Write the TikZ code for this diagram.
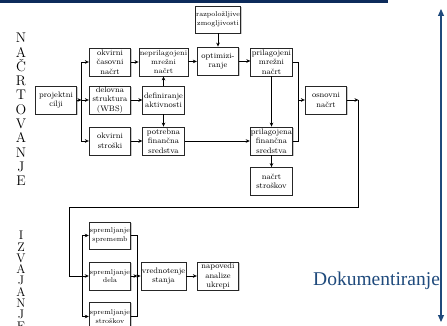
\documentclass[tikz,border=0pt]{standalone}
\usepackage{fontspec}
\newfontfamily\docfont{Liberation Serif}
\usetikzlibrary{arrows.meta,shadows}
\definecolor{barblue}{HTML}{0D2B5B}
\definecolor{docblue}{HTML}{1F4A7C}
\begin{document}
\begin{tikzpicture}[x=1pt,y=-1pt,
  box/.style={draw=black!85,line width=0.8pt,fill=white,align=center,
    minimum width=41.5pt,minimum height=28pt,inner sep=0.8pt,
    font=\footnotesize,
    drop shadow={shadow xshift=0.9pt,shadow yshift=-0.9pt,opacity=0.35,fill=black!60}},
  smallbox/.style={box,font=\fontsize{7}{8.6}\selectfont},
  arr/.style={-{Stealth[length=4pt,width=3.6pt]},line width=0.75pt},
  lin/.style={line width=0.75pt},
  phase/.style={align=center,inner sep=0pt,anchor=north}]
\useasboundingbox (0,0) rectangle (447,326);
\clip (0,0) rectangle (447,326);

% title bar
\fill[barblue] (0,0) rectangle (388,3);

% phase labels
\node[phase,font=\fontsize{14}{14.3}\selectfont] (plan) at (21,33)
  {N\\A\\Č\\R\\T\\O\\V\\A\\N\\J\\E};
\node[phase,font=\fontsize{12.5}{11.3}\selectfont] (exec) at (21,231)
  {I\\Z\\V\\A\\J\\A\\N\\J\\E};

% planning boxes
\node[box] (cilji) at (56,100) {projektni\\cilji};
\node[box] (casovni) at (110,62) {okvirni\\časovni\\načrt};
\node[box,font=\fontsize{7.4}{9.3}\selectfont] (neprilag) at (163.5,62) {neprilagojeni\\mrežni\\načrt};
\node[smallbox,minimum height=27pt] (razpol) at (218,19.5) {razpoložljive\\zmogljivosti};
\node[box] (optim) at (218,61) {optimizi-\\ranje};
\node[box] (prilagM) at (271.5,62) {prilagojeni\\mrežni\\načrt};
\node[box] (wbs) at (110,100) {delovna\\struktura\\(WBS)};
\node[box] (defin) at (163.5,100) {definiranje\\aktivnosti};
\node[box] (osnovni) at (326,100) {osnovni\\načrt};
\node[box] (okvStr) at (110,141) {okvirni\\stroški};
\node[box] (potrebna) at (163.5,141) {potrebna\\finančna\\sredstva};
\node[box] (prilagF) at (271.5,141) {prilagojena\\finančna\\sredstva};
\node[box] (nacrtStr) at (271.5,181.5) {načrt\\stroškov};

% execution boxes
\node[smallbox,minimum height=27pt] (sprememb) at (110,235.5) {spremljanje\\sprememb};
\node[smallbox] (dela) at (110,276) {spremljanje\\dela};
\node[smallbox] (strosk) at (110,316.5) {spremljanje\\stroškov};
\node[box] (vredn) at (163.5,276) {vrednotenje\\stanja};
\node[box] (napov) at (218,276) {napovedi\\analize\\ukrepi};

% junction points
\coordinate (j1) at (81.5,100);
\coordinate (j2) at (298.5,100);
\coordinate (j3) at (358.5,100);
\coordinate (c1) at (69,207);
\coordinate (j4) at (82.5,276);
\coordinate (j5) at (137.5,276);

% planning connectors
\draw[arr] (cilji) -- (j1);
\draw[arr] (j1) |- (casovni);
\draw[arr] (j1) -- (wbs);
\draw[arr] (j1) |- (okvStr);
\draw[arr] (casovni) -- (neprilag);
\draw[arr] (neprilag) -- (optim);
\draw[arr] (optim) -- (prilagM.west |- optim);
\draw[arr] (razpol) -- (optim);
\draw[arr] (wbs) -- (defin);
\draw[arr] (defin) -- (neprilag);
\draw[arr] (defin) -- (potrebna);
\draw[arr] (okvStr) -- (potrebna);
\draw[arr] (potrebna) -- (prilagF);
\draw[arr] (prilagM) -- (prilagF);
\draw[arr] (prilagF) -- (nacrtStr);
\draw[lin] (prilagM.east) -| (j2);
\draw[lin] (prilagF.east) -| (j2);
\draw[arr] (j2) -- (osnovni);
\draw[arr] (osnovni) -- (j3);

% feedback into execution
\draw[arr] (j3) |- (c1) |- (dela);
\draw[arr] (j4) |- (sprememb);
\draw[arr] (j4) |- (strosk);
\draw[lin] (sprememb.east) -| (j5);
\draw[lin] (strosk.east) -| (j5);
\draw[arr] (dela) -- (j5);
\draw[arr] (j5) -- (vredn);
\draw[arr] (vredn) -- (napov);

% documentation axis
\coordinate (dtop) at (441,9);
\coordinate (dbot) at (441,322);
\draw[docblue,line width=1.1pt,{Triangle[length=7pt,width=6pt]}-{Triangle[length=7pt,width=6pt]}] (dtop) -- (dbot);
\node[anchor=base west,inner sep=0pt,text=docblue,font=\docfont\fontsize{19.5}{22}\selectfont] (doc) at (313,285) {Dokumentiranje};
\end{tikzpicture}
\end{document}
